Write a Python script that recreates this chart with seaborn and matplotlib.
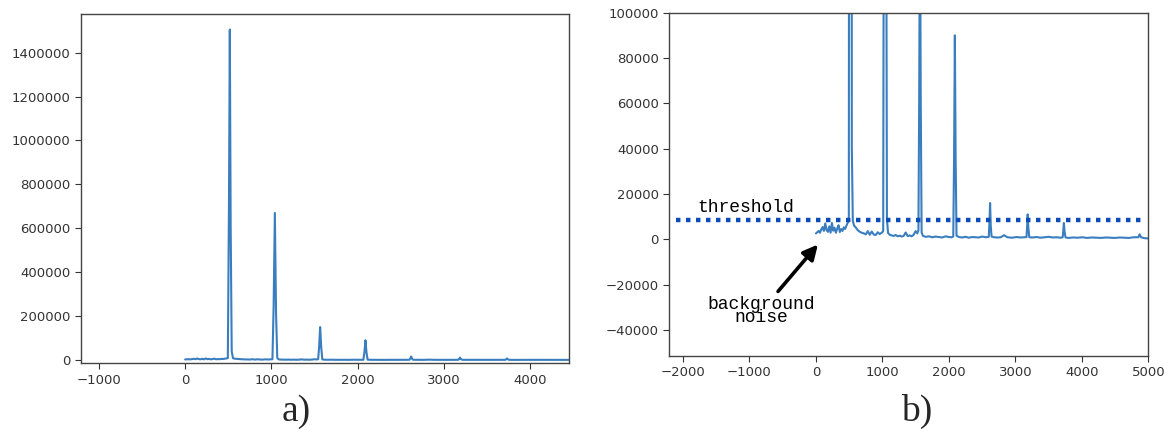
import numpy as np
import pandas as pd
import seaborn as sns
import matplotlib.pyplot as plt

# spectrum, in pieces (x = position, y = intensity)
noise_x = [0, 20, 40, 60, 80, 100, 120, 140, 160, 180, 200, 220, 240, 260,
           280, 300, 320, 340, 360, 380, 400, 420, 440, 460, 480]
noise_y = [2600, 3100, 3700, 2900, 4300, 5400, 3700, 7000, 4100, 3300, 5700,
           2900, 7200, 3800, 5100, 2900, 4700, 6200, 3200, 4500, 3700, 5300,
           4600, 6100, 7400]

peak1_x = [495, 508, 518, 528, 540, 555, 575, 600, 630, 660, 690, 720, 750,
           780, 810, 840, 870, 900, 930, 960, 990]
peak1_y = [8500, 700000, 1505000, 600000, 40000, 8000, 6000, 5200, 4000, 3300,
           2900, 2600, 2200, 3600, 2000, 3400, 2100, 1900, 3100, 2300, 2900]

peak2_x = [1012, 1026, 1040, 1054, 1068, 1085, 1110, 1140, 1170, 1200, 1230,
           1260, 1290, 1320, 1350, 1380, 1410, 1440, 1470, 1500, 1525]
peak2_y = [3600, 250000, 670000, 210000, 9000, 2800, 2000, 1700, 1500, 1900,
           1300, 1600, 1200, 1500, 3000, 1400, 1700, 1300, 2000, 3600, 2600]

peak3_x = [1542, 1553, 1565, 1577, 1590, 1610, 1650, 1700, 1750, 1800, 1850,
           1900, 1950, 2000, 2040]
peak3_y = [4000, 60000, 150000, 60000, 3000, 1500, 1100, 1300, 900, 1200, 1000,
           800, 1300, 1000, 900]

peak4_x = [2066, 2078, 2090, 2102, 2115, 2150, 2200, 2250, 2300, 2350, 2400,
           2450, 2500, 2560]
peak4_y = [1200, 35000, 90000, 35000, 1600, 1000, 800, 1100, 700, 1000, 900,
           800, 1200, 900]

peak5_x = [2600, 2610, 2620, 2630, 2642, 2680, 2730, 2780, 2830, 2880, 2950,
           3020, 3080, 3140]
peak5_y = [1100, 7000, 16000, 6000, 1200, 900, 800, 900, 1800, 900, 700, 1000,
           800, 900]

peak6_x = [3168, 3176, 3186, 3196, 3210, 3260, 3320, 3380, 3440, 3500, 3560,
           3620, 3680]
peak6_y = [1000, 5000, 11000, 5000, 900, 800, 1000, 700, 900, 1100, 800, 900,
           700]

peak7_x = [3712, 3721, 3730, 3740, 3755, 3800, 3870, 3940, 4010, 4080, 4150,
           4220, 4290, 4360, 4430, 4500, 4570, 4640, 4710, 4780, 4850, 4870,
           4890, 4940, 4990]
peak7_y = [900, 3500, 7200, 3500, 800, 600, 800, 700, 900, 600, 800, 700, 600,
           800, 700, 600, 800, 700, 600, 900, 900, 2200, 900, 500, 400]

left_xticks = [-1000, 0, 1000, 2000, 3000, 4000]
left_yticks = [0, 200000, 400000, 600000, 800000, 1000000, 1200000, 1400000]
right_xticks = [-2000, -1000, 0, 1000, 2000, 3000, 4000, 5000]
right_yticks = [-40000, -20000, 0, 20000, 40000, 60000, 80000, 100000]
threshold = 8400

df = pd.DataFrame({
    "pos": noise_x + peak1_x + peak2_x + peak3_x + peak4_x + peak5_x
           + peak6_x + peak7_x,
    "intensity": noise_y + peak1_y + peak2_y + peak3_y + peak4_y + peak5_y
                 + peak6_y + peak7_y,
})

sns.set_style("ticks")
plt.rcParams["font.family"] = ["DejaVu Sans"]

fig = plt.figure(figsize=(11.64, 4.30), dpi=100)
ax1 = fig.add_axes([0.0692, 0.1551, 0.4197, 0.8123])
ax2 = fig.add_axes([0.5750, 0.1721, 0.4115, 0.7984])

line_color = "#3a7ebf"
for ax in (ax1, ax2):
    sns.lineplot(data=df, x="pos", y="intensity", ax=ax, color=line_color,
                 linewidth=1.5, sort=False)
    ax.set_xlabel("")
    ax.set_ylabel("")
    ax.ticklabel_format(style="plain", useOffset=False)
    ax.tick_params(labelsize=9.5, colors="#333333", length=4)
    for sp in ax.spines.values():
        sp.set_color("#444444")
        sp.set_linewidth(1.0)

ax1.set_xlim(-1212, 4450)
ax1.set_ylim(-15000, 1576000)
ax1.set_xticks(left_xticks)
ax1.set_yticks(left_yticks)

ax2.set_xlim(-2206, 4990)
ax2.set_ylim(-51500, 100000)
ax2.set_xticks(right_xticks)
ax2.set_yticks(right_yticks)

# threshold line
ax2.hlines(threshold, -2100, 4970, colors="#0d4bb8", linewidth=3.2,
           linestyles=[(0, (1, 1.25))], capstyle="butt", zorder=3)
ax2.text(-1790, 14250, "threshold", family="Liberation Mono", fontsize=13,
         ha="left", va="center", color="black")

# background noise arrow
ax2.annotate("", xy=(30, -2300), xytext=(-570, -23000),
             arrowprops=dict(arrowstyle="-|>", color="black", lw=2.6,
                             mutation_scale=22, shrinkA=0, shrinkB=0))
ax2.text(-826, -36300, "background\nnoise", family="Liberation Mono",
         fontsize=13, ha="center", va="baseline", multialignment="center",
         linespacing=0.62, color="black")

fig.text(296 / 1164, 0.021, "a)", family="Liberation Serif", fontsize=27,
         ha="center", va="baseline")
fig.text(917 / 1164, 0.021, "b)", family="Liberation Serif", fontsize=27,
         ha="center", va="baseline")

fig.savefig("out.png", dpi=100)
